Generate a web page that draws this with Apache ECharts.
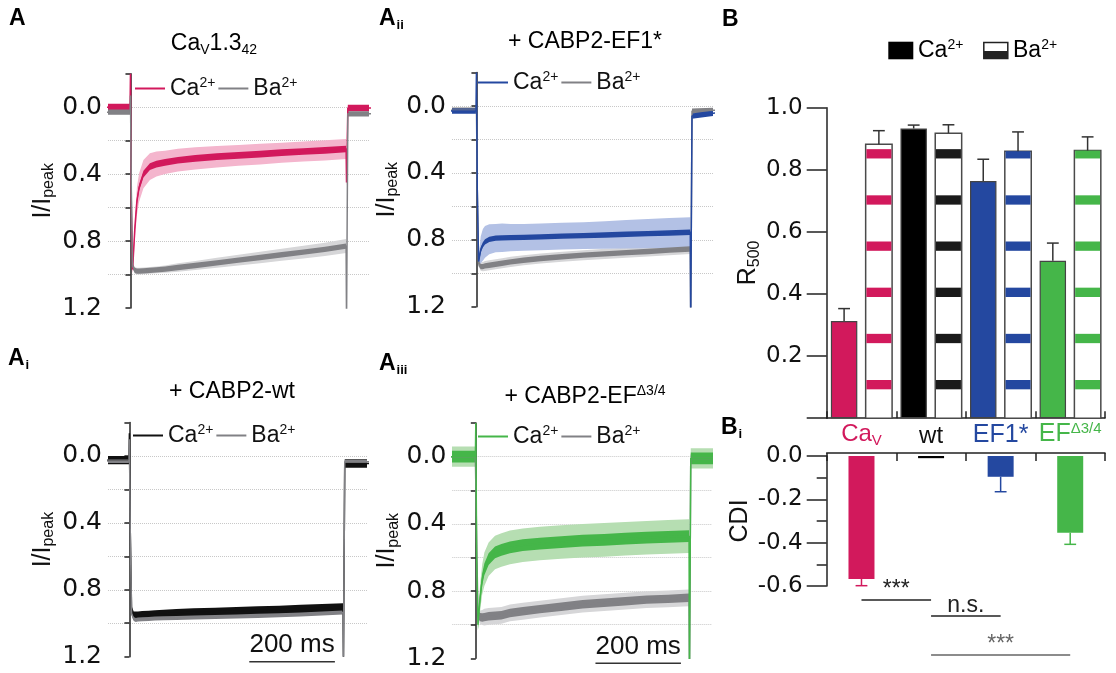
<!DOCTYPE html>
<html>
<head>
<meta charset="utf-8">
<script src="https://cdn.jsdelivr.net/npm/echarts@6/dist/echarts.min.js"></script>
<style>
  html, body { margin: 0; padding: 0; background: #fff; }
  #main { width: 1116px; height: 673px; }
</style>
</head>
<body>
<div id="main"></div>
<script>
// time base of the averaged current traces (ms, step onset at 0, step end at 500)
const timeMs = [-60, -1, 0, 2, 5, 10, 15, 20, 30, 45, 60, 80, 110, 150, 200, 250, 300, 350, 400, 450, 499, 500, 503, 560];

// A: CaV1.3_42 alone
const caA = [0.0, 0.0, -0.2, 0.6, 0.97, 0.73, 0.56, 0.48, 0.40, 0.355, 0.34, 0.33, 0.317, 0.306, 0.296, 0.288, 0.28, 0.272, 0.265, 0.258, 0.25, 0.45, 0.005, 0.005];
const caA_sem = [0.012, 0.012, 0, 0.02, 0.03, 0.07, 0.085, 0.085, 0.085, 0.08, 0.075, 0.07, 0.068, 0.066, 0.064, 0.062, 0.062, 0.06, 0.06, 0.06, 0.06, 0, 0.012, 0.012];
const baA = [0.03, 0.03, -0.07, 0.5, 0.95, 0.975, 0.98, 0.98, 0.978, 0.975, 0.972, 0.968, 0.958, 0.946, 0.93, 0.914, 0.898, 0.882, 0.866, 0.85, 0.83, 1.3, 0.04, 0.04];
const baA_sem = [0.012, 0.012, 0, 0.01, 0.015, 0.02, 0.02, 0.02, 0.02, 0.02, 0.02, 0.022, 0.025, 0.027, 0.03, 0.032, 0.034, 0.036, 0.038, 0.04, 0.042, 0, 0.012, 0.012];

// Aii: + CABP2-EF1*
const caAii = [0.03, 0.03, -0.2, 0.5, 0.93, 0.86, 0.83, 0.812, 0.797, 0.79, 0.788, 0.787, 0.785, 0.782, 0.778, 0.775, 0.771, 0.767, 0.763, 0.759, 0.755, 1.3, 0.06, 0.04];
const caAii_sem = [0.012, 0.012, 0, 0.02, 0.03, 0.08, 0.095, 0.095, 0.09, 0.085, 0.085, 0.082, 0.08, 0.08, 0.08, 0.08, 0.082, 0.085, 0.088, 0.09, 0.09, 0, 0.012, 0.012];
const baAii = [0.025, 0.025, 0.0, 0.5, 0.94, 0.96, 0.96, 0.956, 0.952, 0.946, 0.94, 0.932, 0.922, 0.912, 0.901, 0.892, 0.884, 0.877, 0.87, 0.862, 0.855, 1.3, 0.03, 0.025];
const baAii_sem = [0.012, 0.012, 0, 0.015, 0.02, 0.025, 0.028, 0.03, 0.03, 0.03, 0.03, 0.03, 0.03, 0.03, 0.03, 0.03, 0.03, 0.03, 0.03, 0.03, 0.03, 0, 0.012, 0.012];

// Ai: + CABP2-wt
const caAi = [0.025, 0.025, -0.135, 0.45, 0.92, 0.955, 0.955, 0.955, 0.952, 0.95, 0.948, 0.945, 0.94, 0.935, 0.932, 0.928, 0.924, 0.92, 0.915, 0.91, 0.905, 1.2, 0.045, 0.045];
const baAi = [0.03, 0.03, -0.1, 0.45, 0.94, 0.975, 0.98, 0.978, 0.976, 0.974, 0.972, 0.97, 0.968, 0.966, 0.963, 0.96, 0.956, 0.952, 0.948, 0.942, 0.936, 1.2, 0.035, 0.035];

// Aiii: + CABP2-EF delta3/4
const caAiii = [0.0, 0.0, -0.2, 0.6, 1.0, 0.84, 0.73, 0.67, 0.61, 0.57, 0.555, 0.54, 0.527, 0.517, 0.508, 0.5, 0.495, 0.488, 0.482, 0.477, 0.473, 1.3, 0.01, 0.01];
const caAiii_sem = [0.06, 0.06, 0, 0.03, 0.03, 0.08, 0.09, 0.1, 0.1, 0.1, 0.1, 0.1, 0.1, 0.1, 0.1, 0.1, 0.1, 0.1, 0.1, 0.1, 0.1, 0, 0.06, 0.06];
const baAiii = [0.0, 0.0, 0.0, 0.5, 0.94, 0.955, 0.957, 0.955, 0.95, 0.947, 0.944, 0.93, 0.92, 0.907, 0.893, 0.878, 0.869, 0.86, 0.851, 0.846, 0.84, 1.3, 0.01, 0.01];
const baAiii_sem = [0.02, 0.02, 0, 0.02, 0.03, 0.04, 0.045, 0.05, 0.05, 0.05, 0.05, 0.05, 0.05, 0.05, 0.05, 0.05, 0.05, 0.05, 0.05, 0.05, 0.05, 0, 0.02, 0.02];

// B: R500 per condition
const groups = ['CaV', 'wt', 'EF1*', 'EFΔ3/4'];
const caR500 = [0.313, 0.933, 0.764, 0.507];
const caR500_err = [0.04, 0.011, 0.07, 0.057];
const baR500 = [0.882, 0.918, 0.86, 0.862];
const baR500_err = [0.044, 0.027, 0.062, 0.044];

// Bi: CDI per condition
const cdi = [-0.568, -0.01, -0.096, -0.354];
const cdi_err = [0.031, 0, 0.069, 0.054];
// comparisons: [from group, to group, level, label]
const sigPairs = [[0, 1, -0.665, '***'], [1, 2, -0.739, 'n.s.'], [1, 3, -0.919, '***']];

const scaleBar = [280, 480, 1.23];

const SANS = '"Liberation Sans", Arial, sans-serif';
const TICK = '"DejaVu Sans", sans-serif';
const PINK = '#D2195C', PINK_L = '#F4B5CD';
const BLUE = '#2448A0', BLUE_L = '#B3C1E5';
const GREEN = '#45B649', GREEN_L = '#B6DEB2';
const GRAY = '#818185', GRAY_L = '#D6D6D8';
const groupColors = [PINK, '#000', BLUE, GREEN];
const stripeColors = [PINK, '#1a1a1a', BLUE, GREEN];

const panels = [
  { grid: { left: 108, top: 73.7, width: 261, height: 234.3 }, xMin: -52, xMax: 552, legend: { left: 135, top: 76 }, caOnTop: false,
    ca: { mean: caA, sem: caA_sem, noise: 0.02, color: PINK, light: PINK_L },
    ba: { mean: baA, sem: baA_sem, noise: 0.016, color: GRAY, light: GRAY_L } },
  { grid: { left: 452, top: 72.6, width: 261, height: 234.1 }, xMin: -57, xMax: 552, legend: { left: 478, top: 70 }, caOnTop: true,
    ca: { mean: caAii, sem: caAii_sem, noise: 0.016, color: BLUE, light: BLUE_L },
    ba: { mean: baAii, sem: baAii_sem, noise: 0.016, color: GRAY, light: GRAY_L } },
  { grid: { left: 108, top: 422.5, width: 259, height: 234.2 }, xMin: -50, xMax: 555, legend: { left: 133, top: 423 }, caOnTop: false,
    ca: { mean: caAi, sem: null, noise: 0.025, color: '#111', light: null },
    ba: { mean: baAi, sem: null, noise: 0.012, color: GRAY, light: null } },
  { grid: { left: 452.3, top: 423.1, width: 259.4, height: 235.2 }, xMin: -55, xMax: 552, legend: { left: 478, top: 424 }, caOnTop: true,
    ca: { mean: caAiii, sem: caAiii_sem, noise: 0.035, color: GREEN, light: GREEN_L },
    ba: { mean: baAiii, sem: baAiii_sem, noise: 0.025, color: GRAY, light: GRAY_L } }
];

const bandSeries = (pi, mean, half, color) => {
  const pts = timeMs.map((t, k) => [t, mean[k] - half[k], mean[k] + half[k]]);
  return {
    type: 'custom', xAxisIndex: pi, yAxisIndex: pi, clip: true, silent: true,
    data: [[0, 0]],
    renderItem: (params, api) => {
      const up = pts.map((p) => api.coord([p[0], p[1]]));
      const lo = pts.map((p) => api.coord([p[0], p[2]])).reverse();
      return { type: 'polygon', shape: { points: up.concat(lo) }, style: { fill: color } };
    }
  };
};

const lineSeries = (pi, name, mean, color) => ({
  type: 'line', name: name, xAxisIndex: pi, yAxisIndex: pi, color: color,
  data: timeMs.map((t, k) => [t, mean[k]]),
  symbol: 'none', silent: true, animation: false,
  lineStyle: { width: 1.5, color: color }
});

const series = [];
panels.forEach((p, i) => {
  p.ca.name = 'ca' + i;
  p.ba.name = 'ba' + i;
  const order = p.caOnTop ? [p.ba, p.ca] : [p.ca, p.ba];
  order.forEach((tr) => { if (tr.sem) series.push(bandSeries(i, tr.mean, tr.sem, tr.light)); });
  order.forEach((tr) => {
    series.push(bandSeries(i, tr.mean, tr.mean.map(() => tr.noise), tr.color));
    series.push(lineSeries(i, tr.name, tr.mean, tr.color));
  });
});

// scale bars in the lower panels
[2, 3].forEach((pi) => {
  series.push({
    type: 'custom', xAxisIndex: pi, yAxisIndex: pi, clip: false, silent: true,
    data: [scaleBar],
    renderItem: (params, api) => {
      const a = api.coord([api.value(0), api.value(2)]);
      const b = api.coord([api.value(1), api.value(2)]);
      return { type: 'group', children: [
        { type: 'line', shape: { x1: a[0], y1: a[1], x2: b[0], y2: b[1] }, style: { stroke: '#333', lineWidth: 1.5 } },
        { type: 'text', x: (a[0] + b[0]) / 2, y: a[1] - 4,
          style: { text: (scaleBar[1] - scaleBar[0]) + ' ms', fill: '#111', fontSize: 26, fontFamily: SANS, align: 'center', verticalAlign: 'bottom' } }
      ] };
    }
  });
});

// B: Ca bars (even slots) and striped Ba bars (odd slots)
const bCats = [];
groups.forEach((g) => bCats.push(g + ' Ca', g + ' Ba'));

series.push({
  type: 'bar', xAxisIndex: 4, yAxisIndex: 4, barWidth: '76%', silent: true,
  data: bCats.map((c, j) => (j % 2 ? '-' : { value: caR500[j / 2], itemStyle: { color: groupColors[j / 2] } })),
  itemStyle: { borderColor: '#444', borderWidth: 1.2 }
});

series.push({
  type: 'custom', xAxisIndex: 4, yAxisIndex: 4, silent: true,
  data: baR500.map((v, k) => [2 * k + 1, v, k]),
  renderItem: (params, api) => {
    const x = api.value(0), v = api.value(1), g = api.value(2);
    const base = api.coord([x, 0]);
    const top = api.coord([x, v]);
    const w = api.size([1, 0])[0] * 0.76;
    const x0 = base[0] - w / 2;
    const kids = [{ type: 'rect', shape: { x: x0, y: top[1], width: w, height: base[1] - top[1] },
      style: { fill: '#fff', stroke: '#4a4a4a', lineWidth: 1.5 } }];
    // horizontal stripe pattern
    for (let s = 0.093; s < v; s += 0.1487) {
      const y1 = api.coord([x, s])[1];
      const y2 = api.coord([x, Math.min(s + 0.03, v)])[1];
      kids.push({ type: 'rect', shape: { x: x0 + 0.75, y: y2, width: w - 1.5, height: y1 - y2 }, style: { fill: stripeColors[g] } });
    }
    return { type: 'group', children: kids };
  }
});

const errSeries = (xi, yi, data, colorFn, capFrac) => ({
  type: 'custom', xAxisIndex: xi, yAxisIndex: yi, clip: false, silent: true, z: 3,
  data: data,
  renderItem: (params, api) => {
    const x = api.value(0), v = api.value(1), e = api.value(2), dir = api.value(3);
    if (!e) return null;
    const p0 = api.coord([x, v]);
    const p1 = api.coord([x, v + dir * e]);
    const half = api.size([1, 0])[0] * capFrac / 2;
    const st = { stroke: colorFn(api.value(4)), lineWidth: 1.5 };
    return { type: 'group', children: [
      { type: 'line', shape: { x1: p0[0], y1: p0[1], x2: p1[0], y2: p1[1] }, style: st },
      { type: 'line', shape: { x1: p1[0] - half, y1: p1[1], x2: p1[0] + half, y2: p1[1] }, style: st }
    ] };
  }
});

const bErr = [];
groups.forEach((g, k) => {
  bErr.push([2 * k, caR500[k], caR500_err[k], 1, k]);
  bErr.push([2 * k + 1, baR500[k], baR500_err[k], 1, k]);
});
series.push(errSeries(4, 4, bErr, () => '#333', 0.34));

// Bi: CDI bars
series.push({
  type: 'bar', xAxisIndex: 5, yAxisIndex: 5, barWidth: 26, silent: true,
  data: cdi.map((v, k) => ({ value: v, itemStyle: { color: groupColors[k] } }))
});
series.push(errSeries(5, 5, cdi.map((v, k) => [k, v, cdi_err[k], -1, k]), (k) => groupColors[k], 0.17));

series.push({
  type: 'custom', xAxisIndex: 5, yAxisIndex: 5, clip: false, silent: true,
  data: sigPairs.map((s, k) => [s[0], s[1], s[2], k]),
  renderItem: (params, api) => {
    const k = api.value(3);
    const a = api.coord([api.value(0), api.value(2)]);
    const b = api.coord([api.value(1), api.value(2)]);
    const col = k === 2 ? '#666' : '#222';
    return { type: 'group', children: [
      { type: 'line', shape: { x1: a[0], y1: a[1], x2: b[0], y2: b[1] }, style: { stroke: col, lineWidth: 1.5 } },
      { type: 'text', x: (a[0] + b[0]) / 2, y: a[1] + 1,
        style: { text: sigPairs[k][3], fill: col, fontSize: 23, fontFamily: SANS, align: 'center', verticalAlign: 'bottom' } }
    ] };
  }
});

const tickLabel = { fontFamily: TICK, fontSize: 23, color: '#111' };
const axisLn = { show: true, lineStyle: { color: '#222', width: 1.5 } };

const traceY = panels.map((p, i) => ({
  gridIndex: i, type: 'value', inverse: true, min: -0.2, max: 1.2, interval: 0.2,
  name: '{m|I/I}{s|peak}', nameLocation: 'middle', nameRotate: 90, nameGap: 51,
  nameTextStyle: { rich: {
    m: { fontSize: 25, fontFamily: SANS, color: '#111' },
    s: { fontSize: 16, fontFamily: SANS, color: '#111', padding: [12, 0, 0, 0] } } },
  axisLine: axisLn,
  axisTick: { show: true, length: 5, lineStyle: { color: '#222', width: 1.5 } },
  axisLabel: Object.assign({ margin: 6, formatter: (v) => (Math.round(v * 10) % 4 === 0 && v >= 0 ? v.toFixed(1) : '') }, tickLabel, { fontSize: 25 }),
  splitLine: { show: true, showMinLine: false, showMaxLine: false, lineStyle: { type: 'dotted', color: '#c8c8c8', width: 1 } }
}));

const traceX = panels.map((p, i) => ({ gridIndex: i, type: 'value', min: p.xMin, max: p.xMax, show: false }));

const biLabels = ['{cv|Ca}{cvs|V}', '{w|wt}', '{b|EF1*}', '{g|EF}{gs|Δ3/4}'];

const option = {
  animation: false,
  textStyle: { fontFamily: SANS },
  grid: panels.map((p) => p.grid).concat([
    { left: 826.7, top: 107.7, width: 278.3, height: 310.5 },
    { left: 826.7, top: 456, width: 278.3, height: 129.9 }
  ]),
  xAxis: traceX.concat([
    { gridIndex: 4, type: 'category', data: bCats, axisLine: Object.assign({ onZero: false }, axisLn),
      axisTick: { show: true, inside: true, interval: 1, length: 7, lineStyle: { color: '#222', width: 1.5 } },
      axisLabel: { show: false } },
    { gridIndex: 5, type: 'category', data: groups, position: 'top', offset: 3,
      axisLine: Object.assign({ onZero: false }, axisLn),
      axisTick: { show: true, inside: true, length: 8, lineStyle: { color: '#222', width: 1.5 } },
      axisLabel: { show: true, margin: 5, interval: 0, formatter: (v, idx) => biLabels[idx], rich: {
        cv: { fontSize: 24, fontFamily: SANS, color: PINK },
        cvs: { fontSize: 15, fontFamily: SANS, color: PINK, padding: [12, 0, 0, 0] },
        w: { fontSize: 24, fontFamily: SANS, color: '#111' },
        b: { fontSize: 25, fontFamily: SANS, color: BLUE },
        g: { fontSize: 25, fontFamily: SANS, color: GREEN },
        gs: { fontSize: 15, fontFamily: SANS, color: GREEN, padding: [0, 0, 12, 0] } } } }
  ]),
  yAxis: traceY.concat([
    { gridIndex: 4, type: 'value', min: 0, max: 1, interval: 0.2,
      name: '{m|R}{s|500}', nameLocation: 'middle', nameRotate: 90, nameGap: 64,
      nameTextStyle: { rich: {
        m: { fontSize: 25, fontFamily: SANS, color: '#111' },
        s: { fontSize: 16, fontFamily: SANS, color: '#111', padding: [12, 0, 0, 0] } } },
      axisLine: axisLn,
      axisTick: { show: true, length: 20, lineStyle: { color: '#222', width: 1.5 } },
      axisLabel: Object.assign({ margin: 24, formatter: (v) => (v === 0 ? '' : v.toFixed(1)) }, tickLabel),
      splitLine: { show: false } },
    { gridIndex: 5, type: 'value', min: -0.6, max: 0, interval: 0.2,
      name: 'CDI', nameLocation: 'middle', nameRotate: 90, nameGap: 74,
      nameTextStyle: { fontSize: 25, fontFamily: SANS, color: '#111' },
      axisLine: axisLn,
      axisTick: { show: true, length: 20, lineStyle: { color: '#222', width: 1.5 } },
      minorTick: { show: true, splitNumber: 2, length: 10, lineStyle: { color: '#222', width: 1.5 } },
      axisLabel: Object.assign({ margin: 24, formatter: (v) => v.toFixed(1) }, tickLabel),
      splitLine: { show: false } }
  ]),
  legend: panels.map((p, i) => ({
    left: p.legend.left, top: p.legend.top, data: ['ca' + i, 'ba' + i],
    icon: 'rect', itemWidth: 30, itemHeight: 2, itemGap: 3, selectedMode: false, padding: 0,
    formatter: (n) => (n.startsWith('ca') ? '{t|Ca}{p|2+}' : '{t|Ba}{p|2+}'),
    textStyle: { rich: {
      t: { fontSize: 23, fontFamily: SANS, color: '#111' },
      p: { fontSize: 14, fontFamily: SANS, color: '#111', padding: [0, 0, 11, 0] } } }
  })),
  graphic: [],
  series: series
};

const letterRich = {
  b: { fontSize: 23, fontWeight: 'bold', fontFamily: SANS, color: '#111' },
  i: { fontSize: 13, fontWeight: 'bold', fontFamily: SANS, color: '#111', padding: [13, 0, 0, 1] }
};
const titleRich = {
  m: { fontSize: 23, fontFamily: SANS, color: '#333' },
  s: { fontSize: 14, fontFamily: SANS, color: '#333', padding: [12, 0, 0, 0] },
  p: { fontSize: 14, fontFamily: SANS, color: '#333', padding: [0, 0, 12, 0] }
};
const supRich = {
  t: { fontSize: 23, fontFamily: SANS, color: '#111' },
  p: { fontSize: 14, fontFamily: SANS, color: '#111', padding: [0, 0, 11, 0] }
};
const txt = (x, y, text, rich, align) => ({
  type: 'text', x: x, y: y, silent: true,
  style: { text: text, rich: rich, align: align || 'left', verticalAlign: 'middle' }
});

option.graphic = [
  txt(9, 19, '{b|A}', letterRich),
  txt(379, 19, '{b|A}{i|ii}', letterRich),
  txt(8, 359, '{b|A}{i|i}', letterRich),
  txt(379, 364, '{b|A}{i|iii}', letterRich),
  txt(722, 20, '{b|B}', letterRich),
  txt(721, 428, '{b|B}{i|i}', letterRich),
  txt(214, 44, '{m|Ca}{s|V}{m|1.3}{s|42}', titleRich, 'center'),
  txt(585, 42, '{m|+ CABP2-EF1*}', titleRich, 'center'),
  txt(232, 392, '{m|+ CABP2-wt}', titleRich, 'center'),
  txt(585, 397, '{m|+ CABP2-EF}{p|Δ3/4}', titleRich, 'center'),
  { type: 'rect', shape: { x: 888.3, y: 41.7, width: 25, height: 17.6 }, style: { fill: '#000' }, silent: true },
  txt(918, 51, '{t|Ca}{p|2+}', supRich),
  { type: 'rect', shape: { x: 983.8, y: 42.4, width: 24, height: 16 }, style: { fill: '#fff', stroke: '#222', lineWidth: 1.5 }, silent: true },
  { type: 'rect', shape: { x: 983.8, y: 51, width: 24, height: 7.4 }, style: { fill: '#222' }, silent: true },
  txt(1013, 51, '{t|Ba}{p|2+}', supRich)
];

const chart = echarts.init(document.getElementById('main'));
chart.setOption(option);
</script>
</body>
</html>
